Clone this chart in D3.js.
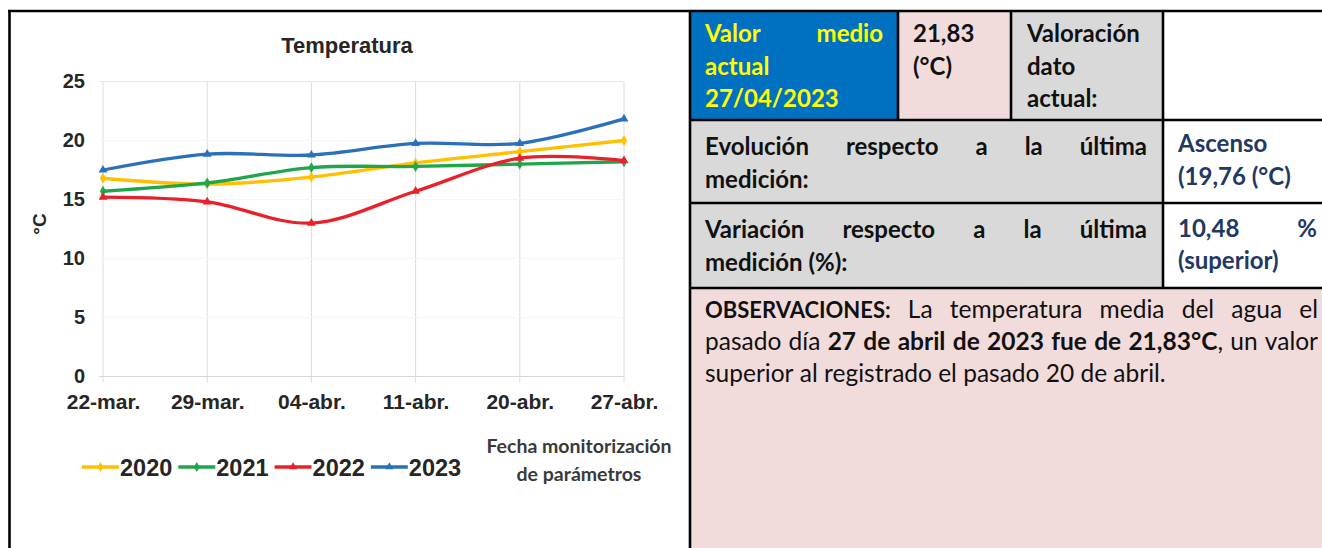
<!DOCTYPE html>
<html><head><meta charset="utf-8">
<script src="https://cdn.jsdelivr.net/npm/d3@7"></script>
<style>html,body{margin:0;padding:0;background:#fff;overflow:hidden}</style>
</head><body><svg id="c" width="1322" height="548"></svg>
<script>
// ---------- DATA ----------
const categories = ["22-mar.", "29-mar.", "04-abr.", "11-abr.", "20-abr.", "27-abr."];
const years = ["2020", "2021", "2022", "2023"];
const values2020 = [16.8, 16.3, 16.9, 18.1, 19.05, 20.0];
const values2021 = [15.7, 16.4, 17.7, 17.8, 18.0, 18.2];
const values2022 = [15.2, 14.8, 13.0, 15.7, 18.5, 18.3];
const values2023 = [17.5, 18.85, 18.77, 19.75, 19.76, 21.83];
const yTicks = [0, 5, 10, 15, 20, 25];
const chartTitle = "Temperatura";
const yAxisTitle = "°C";
const xAxisTitle = ["Fecha monitorización", "de parámetros"];
const seriesColors = ["#FFC000", "#1FA64A", "#E8202A", "#2B70BA"];

const seriesValues = [values2020, values2021, values2022, values2023];

const svg = d3.select("#c");
const CH = "'Liberation Sans', Arial, sans-serif";
const TF = "Lato, 'Open Sans', sans-serif";

// ---------- BACKGROUNDS / TABLE CELLS ----------
const cells = [
  [690, 11, 208, 109, "#0070C0"],
  [898, 11, 113, 109, "#F2DCDB"],
  [1011, 11, 152, 109, "#D9D9D9"],
  [1163, 11, 170, 109, "#FFFFFF"],
  [690, 120, 473, 83, "#D9D9D9"],
  [1163, 120, 170, 83, "#FFFFFF"],
  [690, 203, 473, 85, "#D9D9D9"],
  [1163, 203, 170, 85, "#FFFFFF"],
  [690, 288, 640, 270, "#F2DCDB"]
];
svg.selectAll("rect.cell").data(cells).join("rect").attr("class", "cell")
  .attr("x", d => d[0]).attr("y", d => d[1]).attr("width", d => d[2]).attr("height", d => d[3])
  .attr("fill", d => d[4]);

// ---------- CHART ----------
const x = d3.scalePoint().domain(categories).range([103, 624]);
const y = d3.scaleLinear().domain([0, 25]).range([376.5, 81.5]);

const grid = svg.append("g");
grid.selectAll("line.v").data(categories).join("line")
  .attr("x1", d => x(d)).attr("x2", d => x(d)).attr("y1", y(25)).attr("y2", y(0) + 6)
  .attr("stroke", "#dcdcdc").attr("stroke-width", 1);
grid.selectAll("line.h").data(yTicks).join("line")
  .attr("x1", x(categories[0]) - 4).attr("x2", x(categories[categories.length - 1]))
  .attr("y1", d => y(d)).attr("y2", d => y(d))
  .attr("stroke", d => d === 0 ? "#d6d6d6" : (d === 25 ? "#e6e6e6" : "#f5f5f5")).attr("stroke-width", 1);

const yAxis = svg.append("g").attr("transform", `translate(${x(categories[0])},0)`)
  .call(d3.axisLeft(y).tickValues(yTicks).tickSize(0).tickPadding(18));
yAxis.select(".domain").remove();
yAxis.selectAll("text").attr("font-family", CH).attr("font-size", 20).attr("font-weight", 700).attr("fill", "#262626");

const xAxis = svg.append("g").attr("transform", `translate(0,${y(0)})`)
  .call(d3.axisBottom(x).tickSize(0).tickPadding(18));
xAxis.select(".domain").remove();
xAxis.selectAll("text").attr("font-family", CH).attr("font-size", 21).attr("font-weight", 700).attr("fill", "#262626");

svg.append("text").attr("x", 347).attr("y", 53).attr("text-anchor", "middle")
  .attr("font-family", CH).attr("font-size", 22).attr("font-weight", 700).attr("fill", "#262626").text(chartTitle);

svg.append("text").attr("transform", "translate(46,224) rotate(-90)").attr("text-anchor", "middle")
  .attr("font-family", CH).attr("font-size", 19).attr("font-weight", 700).attr("fill", "#262626").text(yAxisTitle);

xAxisTitle.forEach((t, i) => {
  svg.append("text").attr("x", 579).attr("y", 453 + i * 28).attr("text-anchor", "middle")
    .attr("font-family", TF).attr("font-size", 19.5).attr("font-weight", 700).attr("fill", "#3a3a3a").text(t);
});

const lineGen = d3.line().x((d, i) => x(categories[i])).y(d => y(d)).curve(d3.curveCardinal.tension(0));
const symbols = [d3.symbolDiamond, d3.symbolDiamond, d3.symbolTriangle, d3.symbolTriangle];
seriesValues.forEach((vals, s) => {
  svg.append("path").attr("d", lineGen(vals)).attr("fill", "none")
    .attr("stroke", seriesColors[s]).attr("stroke-width", 3.3).attr("stroke-linejoin", "round");
  svg.append("g").selectAll("path").data(vals).join("path")
    .attr("transform", (d, i) => `translate(${x(categories[i])},${y(d)})`)
    .attr("d", d3.symbol().type(symbols[s]).size(34)).attr("fill", seriesColors[s]);
});

// legend
let lx = 82;
const ly = 467;
years.forEach((yr, s) => {
  svg.append("line").attr("x1", lx).attr("x2", lx + 37).attr("y1", ly).attr("y2", ly)
    .attr("stroke", seriesColors[s]).attr("stroke-width", 3.3);
  svg.append("path").attr("transform", `translate(${lx + 18.5},${ly})`)
    .attr("d", d3.symbol().type(symbols[s]).size(28)).attr("fill", seriesColors[s]);
  const t = svg.append("text").attr("x", lx + 38).attr("y", ly + 8.5)
    .attr("font-family", CH).attr("font-size", 23.5).attr("font-weight", 700).attr("fill", "#262626").text(yr);
  lx += 38 + t.node().getComputedTextLength() + 6;
});

// ---------- TABLE TEXT ----------
function measureSpace(size, bold) {
  const a = svg.append("text").attr("font-family", TF).attr("font-size", size).attr("font-weight", bold ? 700 : 400).text("a a");
  const b = svg.append("text").attr("font-family", TF).attr("font-size", size).attr("font-weight", bold ? 700 : 400).text("aa");
  const w = a.node().getComputedTextLength() - b.node().getComputedTextLength();
  a.remove(); b.remove();
  return w;
}
function textLine(tokens, x0, x1, yb, o) {
  const items = tokens.map(tok => {
    const parts = typeof tok === "string" ? [[tok, o.bold]] : tok;
    const t = svg.append("text").attr("y", yb).attr("font-family", TF).attr("font-size", o.size).attr("fill", o.color);
    parts.forEach(([s, b, fs]) => {
      const sp = t.append("tspan").attr("font-weight", b ? 700 : 400).text(s);
      if (fs) sp.attr("font-size", fs);
    });
    return { t, w: t.node().getComputedTextLength() };
  });
  const total = d3.sum(items, d => d.w);
  const gap = (o.justify && items.length > 1) ? (x1 - x0 - total) / (items.length - 1) : measureSpace(o.size, o.bold);
  let cx = x0;
  items.forEach(it => { it.t.attr("x", cx); cx += it.w + gap; });
}
const B = 24, YEL = "#FFFF00", BLK = "#111111", NAVY = "#1F3864";
textLine(["Valor", "medio"], 705, 883, 42, { size: B, bold: true, color: YEL, justify: true });
textLine(["actual"], 705, 883, 75, { size: B, bold: true, color: YEL });
textLine(["27/04/2023"], 705, 883, 107, { size: B, bold: true, color: YEL });
textLine(["21,83"], 913, 1000, 42, { size: B, bold: true, color: BLK });
textLine(["(°C)"], 913, 1000, 75, { size: B, bold: true, color: BLK });
textLine(["Valoración"], 1027, 1160, 42, { size: B, bold: true, color: BLK });
textLine(["dato"], 1027, 1160, 75, { size: B, bold: true, color: BLK });
textLine(["actual:"], 1027, 1160, 107, { size: B, bold: true, color: BLK });

textLine(["Evolución", "respecto", "a", "la", "última"], 705, 1147, 155, { size: B, bold: true, color: BLK, justify: true });
textLine(["medición:"], 705, 1147, 188, { size: B, bold: true, color: BLK });
textLine(["Ascenso"], 1178, 1318, 152, { size: B, bold: true, color: NAVY });
textLine(["(19,76", "(°C)"], 1178, 1318, 185, { size: B, bold: true, color: NAVY });

textLine(["Variación", "respecto", "a", "la", "última"], 705, 1147, 238, { size: B, bold: true, color: BLK, justify: true });
textLine(["medición", "(%):"], 705, 1147, 271, { size: B, bold: true, color: BLK });
textLine(["10,48", "%"], 1178, 1317, 237, { size: B, bold: true, color: NAVY, justify: true });
textLine(["(superior)"], 1178, 1318, 269, { size: B, bold: true, color: NAVY });

const R = 24.5;
textLine([[["OBSERVACIONES:", true, 22]], "La", "temperatura", "media", "del", "agua", "el"], 705, 1318, 318,
  { size: R, bold: false, color: BLK, justify: true });
textLine(["pasado", "día", [["27", true]], [["de", true]], [["abril", true]], [["de", true]], [["2023", true]], [["fue", true]], [["de", true]],
  [["21,83°C", true], [",", false]], "un", "valor"], 705, 1318, 350, { size: R, bold: false, color: BLK, justify: true });
textLine(["superior", "al", "registrado", "el", "pasado", "20", "de", "abril."], 705, 1318, 382, { size: R, bold: false, color: BLK });

// ---------- BORDERS ----------
const borders = [
  [8, 11, 1330, 11], [9.5, 11, 9.5, 560], [690, 11, 690, 560],
  [690, 120, 1330, 120], [690, 203, 1330, 203], [690, 288, 1330, 288],
  [898, 11, 898, 120], [1011, 11, 1011, 120], [1163, 11, 1163, 288]
];
svg.selectAll("line.b").data(borders).join("line").attr("class", "b")
  .attr("x1", d => d[0]).attr("y1", d => d[1]).attr("x2", d => d[2]).attr("y2", d => d[3])
  .attr("stroke", "#000").attr("stroke-width", 2.6);
</script></body></html>
